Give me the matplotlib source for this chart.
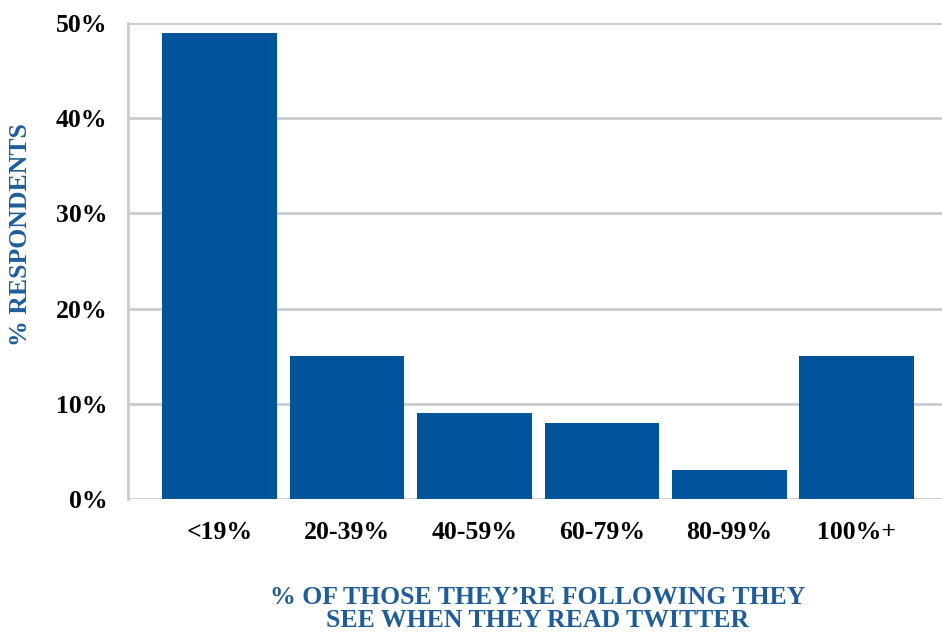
import matplotlib.pyplot as plt
from matplotlib.ticker import FuncFormatter

categories = ['<19%', '20-39%', '40-59%', '60-79%', '80-99%', '100%+']
respondents = [49, 15, 9, 8, 3, 15]
y_ticks = [0, 10, 20, 30, 40, 50]

BAR_COLOR = '#00559a'
LABEL_COLOR = '#1f5d99'
GRID_COLOR = '#cccccc'

plt.rcParams['font.family'] = ['Liberation Serif', 'DejaVu Serif']
plt.rcParams['font.weight'] = 'bold'

fig = plt.figure(figsize=(9.42, 6.34), dpi=100)
ax = fig.add_axes([128 / 942, 1 - 499 / 634, 1 - 128 / 942, (499 - 23) / 634])

x = list(range(len(categories)))
ax.bar(x, respondents, width=0.9, color=BAR_COLOR, zorder=3)

ax.set_ylim(0, 50)
ax.set_xlim(-0.72, 5.67)
ax.set_yticks(y_ticks)
ax.yaxis.set_major_formatter(FuncFormatter(lambda v, p: f'{int(v)}%'))
ax.set_xticks(x)
ax.set_xticklabels(categories)

ax.grid(axis='y', color=GRID_COLOR, linewidth=2, zorder=0)
ax.set_axisbelow(True)
for side in ['top', 'right', 'bottom']:
    ax.spines[side].set_visible(False)
ax.spines['left'].set_color(GRID_COLOR)
ax.spines['left'].set_linewidth(2)

ax.tick_params(axis='both', length=0, labelsize=18.5, labelcolor='black')
ax.tick_params(axis='y', pad=15)
ax.tick_params(axis='x', pad=16)

fig.text(21 / 942, 1 - 235 / 634, '% RESPONDENTS', rotation=90,
         ha='center', va='center', color=LABEL_COLOR, fontsize=18.5,
         fontweight='bold')

fig.text(538 / 942, 1 - 609 / 634,
         '% OF THOSE THEY\u2019RE FOLLOWING THEY\nSEE WHEN THEY READ TWITTER',
         ha='center', va='center', color=LABEL_COLOR, fontsize=18.5,
         fontweight='bold', linespacing=1.05)

fig.savefig('out.png', dpi=100)
